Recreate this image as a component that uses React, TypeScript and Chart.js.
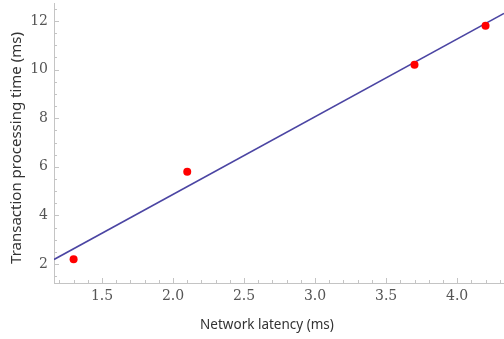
import React, { useEffect, useRef } from "react";
import { Chart, registerables } from "chart.js";

Chart.register(...registerables);

const pointX = [1.3, 2.1, 3.7, 4.2];
const pointY = [2.2, 5.8, 10.2, 11.8];
const fitX = [1.162, 4.33];
const fitY = [2.19, 12.31];
const xTickValues = [1.5, 2.0, 2.5, 3.0, 3.5, 4.0];
const yTickValues = [2, 4, 6, 8, 10, 12];
const xRange = [1.162, 4.33];
const yRange = [1.22, 12.74];
const xMinorStep = 0.1;
const yMinorStep = 0.5;
const xTitle = "Network latency (ms)";
const yTitle = "Transaction processing time (ms)";

const axisColor = "#c4c4c4";
const tickLabelColor = "#555555";
const titleColor = "#333333";
const xTitleFont = "13.5px 'Noto Sans'";
const yTitleFont = "15px 'Noto Sans'";

const innerTicks = {
  id: "innerTicks",
  afterDraw(chart: any) {
    const { ctx, chartArea, scales } = chart;
    const xs = scales.x;
    const ys = scales.y;
    ctx.save();
    ctx.strokeStyle = axisColor;
    ctx.lineWidth = 1;
    const isMajor = (v: number, list: number[]) => list.some((t) => Math.abs(t - v) < 1e-6);
    const startX = Math.ceil(xs.min / xMinorStep - 1e-6);
    const endX = Math.floor(xs.max / xMinorStep + 1e-6);
    for (let i = startX; i <= endX; i++) {
      const v = i * xMinorStep;
      const px = Math.round(xs.getPixelForValue(v)) + 0.5;
      const len = isMajor(v, xTickValues) ? 5 : 3;
      ctx.beginPath();
      ctx.moveTo(px, chartArea.bottom);
      ctx.lineTo(px, chartArea.bottom - len);
      ctx.stroke();
    }
    const startY = Math.ceil(ys.min / yMinorStep - 1e-6);
    const endY = Math.floor(ys.max / yMinorStep + 1e-6);
    for (let i = startY; i <= endY; i++) {
      const v = i * yMinorStep;
      const py = Math.round(ys.getPixelForValue(v)) + 0.5;
      const len = isMajor(v, yTickValues) ? 5 : 3;
      ctx.beginPath();
      ctx.moveTo(chartArea.left, py);
      ctx.lineTo(chartArea.left + len, py);
      ctx.stroke();
    }
    // axis titles
    ctx.fillStyle = titleColor;
    ctx.textAlign = "center";
    ctx.textBaseline = "middle";
    ctx.font = xTitleFont;
    ctx.fillText(xTitle, 267, 325);
    ctx.font = yTitleFont;
    ctx.translate(17, 148);
    ctx.rotate(-Math.PI / 2);
    ctx.fillText(yTitle, 0, 0);
    ctx.restore();
  },
};

export default function App() {
  const ref = useRef<HTMLCanvasElement | null>(null);
  useEffect(() => {
    if (!ref.current) return;
    const chart = new Chart(ref.current, {
      type: "scatter",
      data: {
        datasets: [
          {
            type: "line",
            data: fitX.map((x, i) => ({ x, y: fitY[i] })),
            borderColor: "#4b45a3",
            borderWidth: 1.6,
            pointRadius: 0,
            fill: false,
            order: 2,
          } as any,
          {
            data: pointX.map((x, i) => ({ x, y: pointY[i] })),
            backgroundColor: "#ff0000",
            borderColor: "#ff0000",
            borderWidth: 0,
            pointRadius: 4,
            order: 1,
          },
        ],
      },
      options: {
        animation: false,
        responsive: false,
        maintainAspectRatio: false,
        layout: { autoPadding: false, padding: { left: 0, right: 0, top: 3, bottom: 0 } },
        plugins: { legend: { display: false }, tooltip: { enabled: false } },
        scales: {
          x: {
            type: "linear",
            min: xRange[0],
            max: xRange[1],
            afterBuildTicks: (s: any) => {
              s.ticks = xTickValues.map((v) => ({ value: v }));
            },
            afterFit: (s: any) => {
              s.height = 56;
              s.paddingLeft = 0;
              s.paddingRight = 0;
            },
            grid: { drawOnChartArea: false, drawTicks: false },
            border: { display: true, color: axisColor, width: 1 },
            ticks: {
              padding: 5,
              color: tickLabelColor,
              font: { family: "DejaVu Serif", size: 14 },
              callback: (v: any) => Number(v).toFixed(1),
              maxRotation: 0,
              autoSkip: false,
            },
            title: { display: false },
          },
          y: {
            type: "linear",
            min: yRange[0],
            max: yRange[1],
            afterBuildTicks: (s: any) => {
              s.ticks = yTickValues.map((v) => ({ value: v }));
            },
            afterFit: (s: any) => {
              s.width = 54;
              s.paddingTop = 0;
              s.paddingBottom = 0;
            },
            grid: { drawOnChartArea: false, drawTicks: false },
            border: { display: true, color: axisColor, width: 1 },
            ticks: {
              padding: 6,
              color: tickLabelColor,
              font: { family: "DejaVu Serif", size: 14 },
              callback: (v: any) => String(v),
              autoSkip: false,
            },
            title: { display: false },
          },
        },
      },
      plugins: [innerTicks],
    } as any);
    return () => chart.destroy();
  }, []);
  return (
    <div style={{ position: "fixed", left: 0, top: 0, width: 504, height: 339, background: "#fff" }}>
      <canvas ref={ref} width={504} height={339} style={{ width: 504, height: 339 }} />
    </div>
  );
}
